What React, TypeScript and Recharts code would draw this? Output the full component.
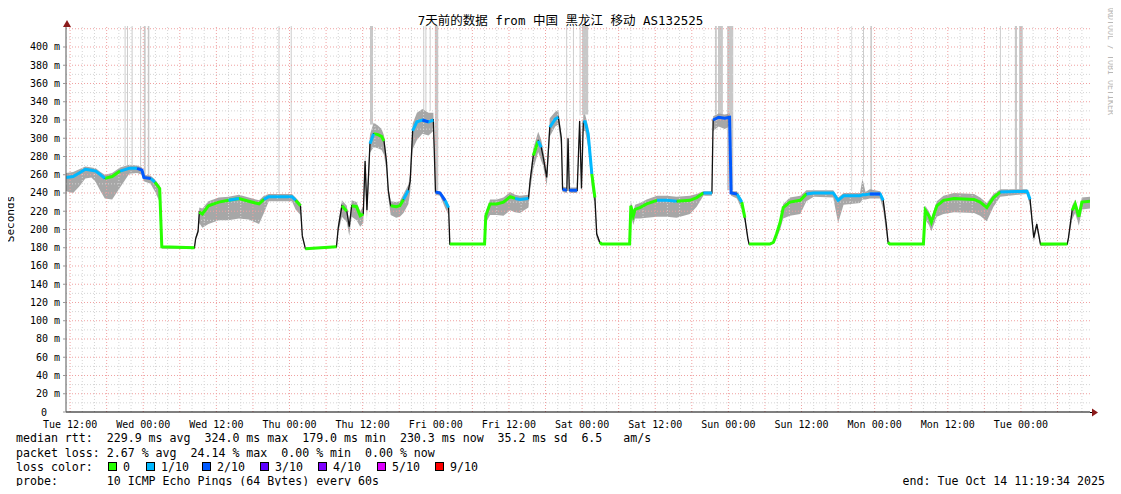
import {
  ComposedChart,
  Area,
  Line,
  XAxis,
  YAxis,
  ReferenceLine,
  ReferenceArea,
} from "recharts";

// hours since Tue 12:00 (Oct 7) at the breakpoints
const hours = [
  -0.67, 0.5, 1.5, 2.5, 3.5, 4.2, 5.0, 5.7, 6.9, 8.2, 9.7, 11.0, 11.8, 12.1, 13.2, 13.9, 14.7, 15.05,
  20.4, 20.6, 21.0, 21.2, 21.7, 22.7, 24.4, 26.0, 27.7, 29.3, 31.0, 31.8, 32.6, 36.4, 37.0, 37.8, 38.1, 38.6,
  43.7, 44.0, 44.6, 45.4, 45.8, 46.2, 47.0, 47.6, 48.1, 48.4, 48.7, 49.2, 49.8, 50.5, 51.1, 51.5, 51.9, 52.2,
  52.6, 53.5, 54.1, 54.7, 55.5, 55.8, 56.2, 56.9, 57.8, 58.8, 59.6, 59.95, 60.7, 61.5, 62.1, 62.3,
  68.0, 68.2, 68.9, 70.0, 71.1, 72.2, 73.0, 73.8, 75.2, 75.5, 76.0, 76.8, 77.3, 77.6, 78.2, 78.7, 79.6, 80.1,
  80.6, 80.8, 81.5, 81.7, 81.9, 83.2, 83.6, 83.9, 84.2, 84.5, 85.0, 85.6, 86.1, 86.4, 86.9, 87.2,
  91.8, 92.0, 92.4, 92.7, 93.5, 94.6, 96.3, 97.9, 99.5, 101.7, 102.8, 103.9, 105.3, 105.5, 106.4, 107.4, 108.2,
  108.45, 109.4, 110.2, 110.7, 111.2, 111.4, 114.8, 115.4, 115.9, 116.5, 117.0, 118.1, 119.8, 120.8, 122.0,
  125.2, 126.0, 126.9, 129.6, 130.0, 130.5, 131.2, 132.9, 133.4, 133.9, 134.2, 134.5, 140.0, 140.3, 140.9,
  141.3, 142.2, 143.3, 145.0, 148.3, 149.3, 150.4, 151.5, 152.6, 157.0, 157.5, 158.1, 158.6, 159.2, 163.6,
  163.8, 164.4, 164.9, 165.5, 166.0, 167.33,
];

// median rtt in ms
const median = [
  257, 258, 262, 266, 265, 264, 260, 256, 258, 264, 267, 267, 265, 257, 256, 252, 245, 181,
  180, 190, 198, 219, 217, 226, 230, 232, 234, 231, 228, 233, 236, 236, 232, 226, 193, 179,
  181, 202, 226, 220, 203, 226, 225, 215, 217, 275, 221, 294, 305, 304, 302, 297, 275, 243,
  226, 225, 226, 233, 243, 253, 308, 318, 320, 318, 320, 241, 240, 232, 224, 184,
  184, 215, 228, 228, 230, 236, 234, 233, 234, 255, 281, 297, 290, 280, 257, 312, 321, 323,
  300, 244, 243, 300, 243, 243, 319, 245, 318, 318, 305, 261, 235, 195, 186, 184,
  184, 226, 215, 222, 224, 228, 232, 232, 231, 232, 235, 240, 240, 320, 323, 322, 323,
  240, 239, 230, 213, 190, 184, 184, 186, 195, 208, 224, 230, 232, 239, 240,
  240, 232, 237, 237, 238, 238, 239, 239, 232, 206, 186, 184, 184, 221, 215,
  208, 226, 232, 234, 233, 230, 224, 235, 241, 242, 233, 191, 206, 184, 184,
  191, 221, 228, 214, 230, 231,
];

// loss bucket of the following stretch: 0 = 0, 1 = 1/10, 2 = 2/10, -1 = jump (drawn black)
const loss = [
  1, 1, 1, 1, 1, 1, 1, 0, 0, 1, 1, 2, -1, 2, 1, 0, -1, 0,
  -1, -1, -1, 0, 0, 0, 0, 1, 0, 0, 0, 1, 1, 1, 0, -1, -1, 0,
  -1, -1, 0, -1, -1, 0, 0, 0, -1, -1, -1, 1, 0, 0, 0, -1, -1, -1,
  0, 0, 0, 1, -1, -1, 1, 1, 2, 1, -1, 2, 2, 1, -1, 0,
  -1, 0, 0, 0, 0, 0, 1, 1, -1, -1, 0, 1, -1, -1, -1, 1, 1, -1,
  -1, 2, -1, -1, 2, -1, -1, -1, 1, 1, 1, 0, -1, -1, 0, 0,
  -1, 0, 0, 0, 0, 0, 1, 1, 0, 0, 0, 1, -1, 2, 2, 2, -1,
  2, 1, 0, -1, -1, 0, 0, 0, 0, 0, 0, 0, 0, 1, 1,
  1, 1, 1, 1, 1, 1, 2, 1, -1, -1, 0, 0, -1, 0, -1,
  0, 0, 0, 0, 0, 0, 0, 0, 1, 1, -1, -1, -1, 0, -1,
  -1, 0, 0, 0, 0, 0,
];

// smoke extent below / above the median, ms
const smokeDown = [
  15, 18, 15, 10, 8, 12, 18, 22, 25, 18, 6, 5, 5, 4, 6, 10, 15, 2,
  1, 2, 3, 12, 15, 20, 20, 22, 22, 20, 22, 15, 5, 5, 10, 10, 3, 1,
  1, 5, 12, 12, 10, 12, 15, 12, 10, 15, 10, 10, 15, 15, 15, 15, 10, 8,
  10, 12, 12, 15, 15, 12, 20, 20, 15, 15, 12, 3, 3, 8, 8, 1,
  1, 8, 12, 12, 15, 15, 15, 15, 10, 10, 15, 12, 15, 10, 10, 10, 8, 8,
  10, 3, 3, 5, 3, 3, 10, 5, 10, 10, 15, 15, 10, 5, 2, 1,
  1, 10, 10, 10, 12, 15, 18, 18, 18, 15, 10, 3, 3, 12, 10, 12, 10,
  3, 5, 8, 5, 3, 1, 1, 2, 5, 8, 12, 15, 15, 8, 4,
  5, 25, 10, 8, 5, 5, 5, 5, 10, 10, 3, 1, 1, 10, 10,
  10, 12, 15, 15, 15, 15, 15, 10, 5, 3, 8, 5, 5, 2, 1,
  3, 10, 10, 10, 8, 8,
];
const smokeUp = [
  5, 5, 4, 3, 3, 3, 3, 4, 4, 4, 4, 3, 3, 3, 3, 3, 3, 1,
  1, 2, 3, 5, 6, 5, 5, 4, 4, 4, 4, 4, 3, 3, 3, 3, 3, 1,
  1, 5, 6, 6, 5, 6, 5, 5, 8, 10, 10, 10, 12, 10, 8, 6, 5, 5,
  5, 5, 5, 6, 6, 8, 8, 10, 12, 10, 8, 2, 2, 3, 3, 1,
  1, 5, 5, 5, 5, 5, 4, 4, 4, 5, 8, 10, 8, 8, 8, 10, 8, 8,
  5, 3, 3, 5, 3, 3, 5, 5, 8, 8, 8, 5, 5, 3, 1, 1,
  1, 5, 5, 5, 5, 5, 5, 5, 5, 5, 4, 2, 2, 4, 4, 4, 4,
  2, 3, 3, 3, 2, 1, 1, 2, 3, 4, 4, 5, 5, 4, 3,
  3, 3, 3, 3, 18, 3, 5, 3, 3, 3, 2, 1, 1, 5, 5,
  5, 5, 5, 6, 6, 5, 5, 4, 3, 2, 3, 3, 3, 1, 1,
  3, 5, 5, 5, 5, 5,
];

// light grey columns rising to the top: [from h, to h, lowest ms]
const spikes = [
  [8.95, 9.1, 270], [9.35, 9.5, 270], [10.1, 10.25, 268], [11.5, 11.65, 268], [12.1, 12.4, 260],
  [12.75, 13.0, 258], [34.2, 34.35, 240], [36.2, 36.35, 240], [49.2, 49.7, 315], [57.95, 58.1, 330],
  [58.3, 58.45, 330], [59.0, 59.15, 330], [59.85, 60.4, 243], [81.4, 81.55, 250], [82.5, 82.65, 250],
  [83.6, 83.75, 325], [84.0, 85.0, 326], [105.8, 106.1, 326], [106.3, 107.1, 326], [107.8, 108.8, 243],
  [128.2, 128.3, 242], [130.1, 130.25, 258], [131.3, 131.55, 242], [152.55, 152.7, 244],
  [155.0, 155.35, 244], [155.7, 156.3, 244],
];

const xTicks = [0, 12, 24, 36, 48, 60, 72, 84, 96, 108, 120, 132, 144, 156];
const xLabels = [
  "Tue 12:00", "Wed 00:00", "Wed 12:00", "Thu 00:00", "Thu 12:00", "Fri 00:00", "Fri 12:00",
  "Sat 00:00", "Sat 12:00", "Sun 00:00", "Sun 12:00", "Mon 00:00", "Mon 12:00", "Tue 00:00",
];
const yTicks = [0, 20, 40, 60, 80, 100, 120, 140, 160, 180, 200, 220, 240, 260, 280, 300, 320, 340, 360, 380, 400];

const lossColors = [
  { label: "0", color: "#26ff00", x: 108 },
  { label: "1/10", color: "#00b8ff", x: 146 },
  { label: "2/10", color: "#0059ff", x: 202 },
  { label: "3/10", color: "#5e00ff", x: 260 },
  { label: "4/10", color: "#7e00ff", x: 318 },
  { label: "5/10", color: "#dd00ff", x: 377 },
  { label: "9/10", color: "#ff0000", x: 435 },
];

const X_MIN = -0.67;
const X_MAX = 167.33;
const Y_MAX = 423;
const mono = '"DejaVu Sans Mono", "Noto Sans CJK SC", monospace';

const colorPoint = (i: number, lvl: number) =>
  loss[i] === lvl || (i > 0 && loss[i - 1] === lvl) ? median[i] : null;

const rows = hours.map((h, i) => ({
  h,
  med: median[i],
  band: [median[i] - smokeDown[i], median[i] + smokeUp[i]],
  c0: colorPoint(i, 0),
  c1: colorPoint(i, 1),
  c2: colorPoint(i, 2),
}));

const vGrid: number[] = [];
for (let h = 0; h <= 166; h += 2) vGrid.push(h);
const hGrid: number[] = [];
for (let v = 10; v <= 420; v += 10) hGrid.push(v);

const XTick = ({ x, y, payload }: any) => {
  const idx = xTicks.indexOf(payload.value);
  return (
    <text x={x} y={y + 13.5} textAnchor="middle" fontFamily={mono} fontSize={10} fill="#000">
      {xLabels[idx]}
    </text>
  );
};

const YTick = ({ x, y, payload }: any) => {
  const v = payload.value;
  return (
    <text x={v === 0 ? x - 13 : x} y={y + 3.5} textAnchor="end" fontFamily={mono} fontSize={10} fill="#000">
      {v === 0 ? "0" : `${v} m`}
    </text>
  );
};

const line = (top: number, content: any) => (
  <div
    style={{
      position: "absolute",
      left: 16,
      top,
      fontFamily: mono,
      fontSize: 11.6,
      lineHeight: "14px",
      whiteSpace: "pre",
      color: "#000",
    }}
  >
    {content}
  </div>
);

export default function App() {
  return (
    <div style={{ position: "relative", width: 1121, height: 494, margin: -8, background: "#fff", overflow: "hidden" }}>
      <div
        style={{
          position: "absolute",
          left: 0,
          top: 13,
          width: 1121,
          textAlign: "center",
          fontFamily: mono,
          fontSize: 12.5,
          lineHeight: "16px",
          whiteSpace: "pre",
        }}
      >
        7天前的数据 from 中国 黑龙江 移动 AS132525
      </div>

      <div style={{ position: "absolute", left: 0, top: 0 }}>
        <ComposedChart width={1121} height={494} data={rows} margin={{ top: 26, right: 31, left: 0, bottom: 62 }}>
          {vGrid.map((h) => (
            <ReferenceLine
              key={`v${h}`}
              x={h}
              stroke={h % 6 === 0 ? "#f0a0a0" : "#d4d4d4"}
              strokeDasharray="1 2"
            />
          ))}
          {hGrid.map((v) => (
            <ReferenceLine
              key={`h${v}`}
              y={v}
              stroke={v % 20 === 0 ? "#f0a0a0" : "#d4d4d4"}
              strokeDasharray="1 2"
            />
          ))}
          {spikes.map(([a, b, lo], i) => (
            <ReferenceArea key={`s${i}`} x1={a} x2={b} y1={lo} y2={Y_MAX} fill="#c8c8c8" fillOpacity={1} stroke="none" />
          ))}
          <XAxis
            dataKey="h"
            type="number"
            domain={[X_MIN, X_MAX]}
            ticks={xTicks}
            interval={0}
            tick={<XTick />}
            tickLine={false}
            tickSize={0}
            height={20}
            axisLine={{ stroke: "#000" }}
            allowDataOverflow
          />
          <YAxis
            type="number"
            domain={[0, Y_MAX]}
            ticks={yTicks}
            interval={0}
            tick={<YTick />}
            tickSize={3}
            tickMargin={3}
            tickLine={{ stroke: "#999" }}
            width={66}
            axisLine={{ stroke: "#555" }}
            allowDataOverflow
          />
          <Area
            type="linear"
            dataKey="band"
            stroke="none"
            fill="#8a8a8a"
            fillOpacity={0.75}
            isAnimationActive={false}
          />
          <Line type="linear" dataKey="med" stroke="#111" strokeWidth={1.3} dot={false} isAnimationActive={false} />
          <Line type="linear" dataKey="c0" stroke="#26ff00" strokeWidth={3} dot={false} connectNulls={false} isAnimationActive={false} />
          <Line type="linear" dataKey="c1" stroke="#00b8ff" strokeWidth={3} dot={false} connectNulls={false} isAnimationActive={false} />
          <Line type="linear" dataKey="c2" stroke="#0059ff" strokeWidth={3} dot={false} connectNulls={false} isAnimationActive={false} />
        </ComposedChart>
      </div>

      <svg width={1121} height={494} style={{ position: "absolute", left: 0, top: 0, pointerEvents: "none" }}>
        <line x1={1090} y1={412.5} x2={1094} y2={412.5} stroke="#000" />
        <polygon points="63,27 71,27 67,20" fill="#8b1a1a" />
        <polygon points="1092,408.5 1092,416.5 1098,412.5" fill="#8b1a1a" />
        <text
          transform="translate(14,219) rotate(-90)"
          textAnchor="middle"
          fontFamily={mono}
          fontSize={11}
          fill="#000"
        >
          Seconds
        </text>
        <text
          transform="translate(1108,5) rotate(90)"
          textAnchor="start"
          fontFamily={mono}
          fontSize={8.3}
          fill="#b8b8b8"
        >
          RRDTOOL / TOBI OETIKER
        </text>
      </svg>

      {line(431, "median rtt:  229.9 ms avg  324.0 ms max  179.0 ms min  230.3 ms now  35.2 ms sd  6.5   am/s")}
      {line(446, "packet loss: 2.67 % avg  24.14 % max  0.00 % min  0.00 % now")}
      {line(460, "loss color:")}
      {lossColors.map((c) => (
        <div key={c.label}>
          <div
            style={{
              position: "absolute",
              left: c.x,
              top: 462,
              width: 7,
              height: 7,
              border: "1px solid #000",
              background: c.color,
            }}
          />
          <div
            style={{
              position: "absolute",
              left: c.x + 15,
              top: 460,
              fontFamily: mono,
              fontSize: 11.6,
              lineHeight: "14px",
              whiteSpace: "pre",
            }}
          >
            {c.label}
          </div>
        </div>
      ))}
      {line(474, "probe:       10 ICMP Echo Pings (64 Bytes) every 60s")}
      <div
        style={{
          position: "absolute",
          right: 16,
          top: 474,
          fontFamily: mono,
          fontSize: 11.6,
          lineHeight: "14px",
          whiteSpace: "pre",
        }}
      >
        end: Tue Oct 14 11:19:34 2025
      </div>
    </div>
  );
}
